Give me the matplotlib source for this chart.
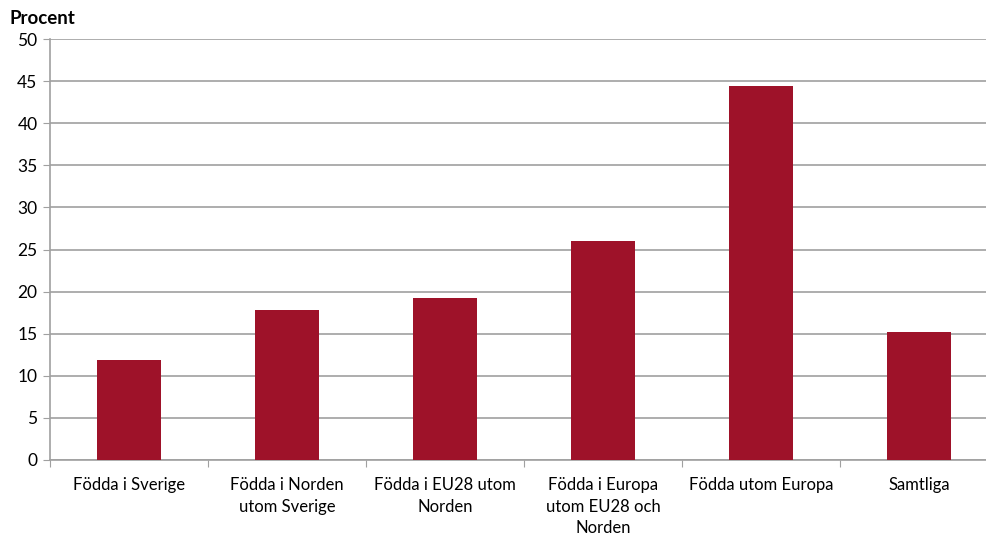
import matplotlib.pyplot as plt

plt.rcParams['font.family'] = ['Lato', 'DejaVu Sans']

categories = ['Födda i Sverige', 'Födda i Norden\nutom Sverige', 'Födda i EU28 utom\nNorden',
              'Födda i Europa\nutom EU28 och\nNorden', 'Födda utom Europa', 'Samtliga']
values = [11.9, 17.8, 19.2, 26.0, 44.4, 15.2]
yticks = list(range(0, 51, 5))

fig = plt.figure(figsize=(9.87, 5.37), dpi=100)
ax = fig.add_axes([50 / 987, 77 / 537, 948 / 987, 421 / 537])

x = range(len(categories))
ax.bar(x, values, width=0.41, color='#9E1229', zorder=3)

ax.set_ylim(0, 50)
ax.set_xlim(-0.5, len(categories) - 0.5)
ax.set_yticks(yticks)
ax.set_yticklabels([str(t) for t in yticks], fontsize=12.5)
ax.yaxis.grid(True, color='#A0A0A0', linewidth=1.2, zorder=0)

ax.set_xticks([i + 0.5 for i in range(-1, len(categories))], minor=False)
ax.set_xticklabels([])
ax.set_xticks(list(x), minor=True)
ax.set_xticklabels(categories, minor=True, fontsize=12, linespacing=1.45)
ax.tick_params(axis='x', which='minor', length=0, pad=12)
ax.tick_params(axis='x', which='major', length=5, color='#A0A0A0')
ax.tick_params(axis='y', length=5, color='#A0A0A0', pad=4)

for s in ['top', 'right']:
    ax.spines[s].set_visible(False)
ax.spines['left'].set_color('#A0A0A0')
ax.spines['bottom'].set_color('#A0A0A0')
ax.spines['left'].set_linewidth(1.2)
ax.spines['bottom'].set_linewidth(1.2)

fig.text(10 / 987, 1 - 18 / 537, 'Procent', fontsize=13.5, fontweight='bold', va='center', ha='left')

plt.savefig('out.png', dpi=100)
